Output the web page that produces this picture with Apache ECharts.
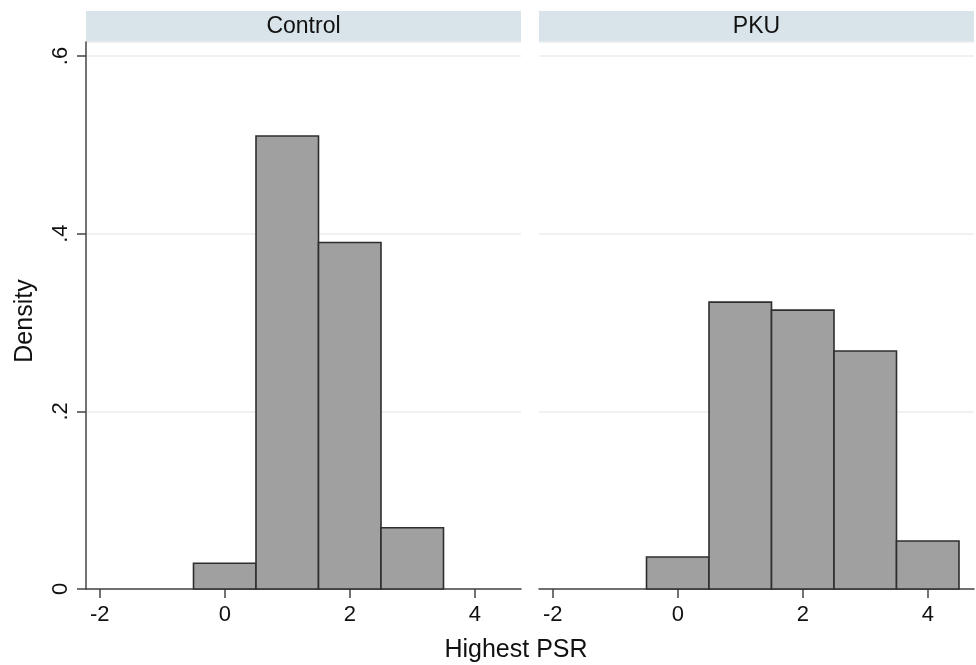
<!DOCTYPE html>
<html>
<head>
<meta charset="UTF-8">
<title>Highest PSR histogram</title>
<script src="https://cdn.jsdelivr.net/npm/echarts@6/dist/echarts.min.js"></script>
<style>
  html, body { margin: 0; padding: 0; background: #fff; }
  #main { width: 976px; height: 665px; }
</style>
</head>
<body>
<div id="main"></div>
<script type="text/javascript">
    // bin centres (width 1) and densities
    var binWidth = 1;
    var controlCenters = [0, 1, 2, 3];
    var controlDensity = [0.029, 0.510, 0.390, 0.069];
    var pkuCenters = [0, 1, 2, 3, 4];
    var pkuDensity = [0.036, 0.323, 0.314, 0.268, 0.054];
    var xTicks = [-2, 0, 2, 4];
    var panelNames = ['Control', 'PKU'];

    var FONT = 'Liberation Sans, Arial, sans-serif';

    function toBars(centers, dens) {
        var out = [];
        for (var i = 0; i < centers.length; i++) {
            out.push([centers[i] - binWidth / 2, centers[i] + binWidth / 2, dens[i]]);
        }
        return out;
    }

    function renderBar(params, api) {
        var p0 = api.coord([api.value(0), api.value(2)]);
        var p1 = api.coord([api.value(1), 0]);
        return {
            type: 'rect',
            shape: { x: p0[0], y: p0[1], width: p1[0] - p0[0], height: p1[1] - p0[1] },
            style: { fill: '#a0a0a0', stroke: '#2e2e2e', lineWidth: 1.6 }
        };
    }

    function xAxisFor(idx) {
        return {
            type: 'value', gridIndex: idx, min: -2.22, max: 4.74,
            axisLine: { show: true, onZero: false, lineStyle: { color: '#444', width: 1.5 } },
            axisTick: { show: true, length: 9, customValues: xTicks, lineStyle: { color: '#444', width: 1.5 } },
            axisLabel: { customValues: xTicks, margin: 15, fontSize: 22, color: '#111', fontFamily: FONT },
            splitLine: { show: false }
        };
    }

    function yAxisFor(idx) {
        return {
            type: 'value', gridIndex: idx, min: 0, max: 0.6158, interval: 0.2,
            axisLine: { show: idx === 0, onZero: false, lineStyle: { color: '#444', width: 1.5 } },
            axisTick: { show: idx === 0, length: 9, lineStyle: { color: '#444', width: 1.5 } },
            axisLabel: {
                show: idx === 0, rotate: 90, margin: 14, fontSize: 22, color: '#111', fontFamily: FONT,
                formatter: function (v) { return v === 0 ? '0' : v.toFixed(1).replace(/^0\./, '.'); }
            },
            splitLine: { show: true, lineStyle: { color: '#e9eef1', width: 1.5 } }
        };
    }

    var myChart = echarts.init(document.getElementById('main'));
    var option = {
        backgroundColor: '#fff',
        animation: false,
        grid: [
            { left: 86, right: 455, top: 42, bottom: 76 },
            { left: 539, right: 2, top: 42, bottom: 76 }
        ],
        xAxis: [xAxisFor(0), xAxisFor(1)],
        yAxis: [yAxisFor(0), yAxisFor(1)],
        graphic: [
            // strip headers
            { type: 'rect', shape: { x: 86, y: 11, width: 435, height: 31 }, style: { fill: '#d9e4ea' } },
            { type: 'rect', shape: { x: 539, y: 11, width: 435, height: 31 }, style: { fill: '#d9e4ea' } },
            { type: 'text', x: 303.5, y: 27, style: { text: panelNames[0], fontSize: 23, fontFamily: FONT, fill: '#111', align: 'center', verticalAlign: 'middle' } },
            { type: 'text', x: 756.5, y: 27, style: { text: panelNames[1], fontSize: 23, fontFamily: FONT, fill: '#111', align: 'center', verticalAlign: 'middle' } },
            // axis titles
            { type: 'text', x: 516, y: 650, style: { text: 'Highest PSR', fontSize: 25, fontFamily: FONT, fill: '#111', align: 'center', verticalAlign: 'middle' } },
            { type: 'text', x: 25, y: 321, rotation: Math.PI / 2, style: { text: 'Density', fontSize: 25, fontFamily: FONT, fill: '#111', align: 'center', verticalAlign: 'middle' } }
        ],
        series: [
            { type: 'custom', xAxisIndex: 0, yAxisIndex: 0, renderItem: renderBar, encode: { x: [0, 1], y: 2 }, data: toBars(controlCenters, controlDensity) },
            { type: 'custom', xAxisIndex: 1, yAxisIndex: 1, renderItem: renderBar, encode: { x: [0, 1], y: 2 }, data: toBars(pkuCenters, pkuDensity) }
        ]
    };
    myChart.setOption(option);
</script>
</body>
</html>
